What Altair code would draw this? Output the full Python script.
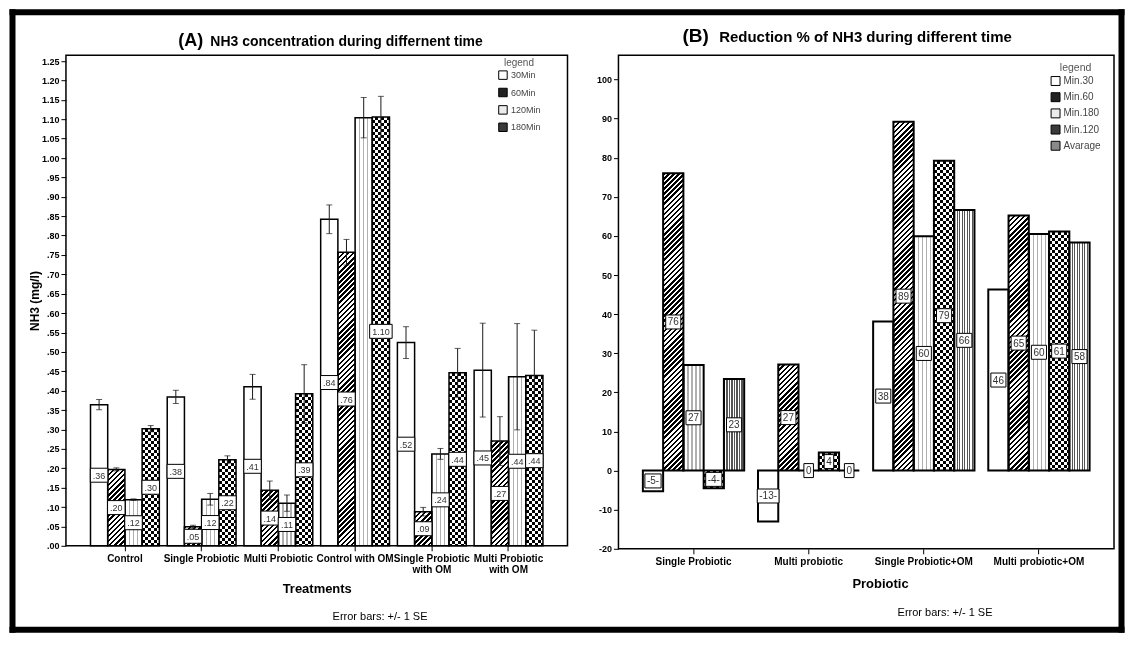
import math
import altair as alt

FONT = "Liberation Sans"

# ---------------- Panel A data ----------------
A_CATS = ["Control", "Single Probiotic", "Multi Probiotic", "Control with OM",
          "Single Probiotic\nwith OM", "Multi Probiotic\nwith OM"]
A_SERIES = ["30Min", "60Min", "120Min", "180Min"]
A_30 = [0.364, 0.384, 0.410, 0.842, 0.524, 0.453]
A_60 = [0.197, 0.049, 0.143, 0.757, 0.088, 0.270]
A_120 = [0.119, 0.120, 0.110, 1.104, 0.237, 0.436]
A_180 = [0.302, 0.222, 0.392, 1.106, 0.446, 0.439]
A_SE_30 = [0.013, 0.017, 0.032, 0.037, 0.041, 0.121]
A_SE_60 = [0.004, 0.004, 0.024, 0.033, 0.011, 0.063]
A_SE_120 = [0.002, 0.015, 0.021, 0.052, 0.014, 0.137]
A_SE_180 = [0.008, 0.010, 0.075, 0.053, 0.063, 0.117]
A_LBL_30 = [".36", ".38", ".41", ".84", ".52", ".45"]
A_LBL_60 = [".20", ".05", ".14", ".76", ".09", ".27"]
A_LBL_120 = [".12", ".12", ".11", "", ".24", ".44"]
A_LBL_180 = [".30", ".22", ".39", "1.10", ".44", ".44"]
A_TICKS = [0.0, 0.05, 0.10, 0.15, 0.20, 0.25, 0.30, 0.35, 0.40, 0.45, 0.50, 0.55, 0.60,
           0.65, 0.70, 0.75, 0.80, 0.85, 0.90, 0.95, 1.00, 1.05, 1.10, 1.15, 1.20, 1.25]

# ---------------- Panel B data ----------------
B_CATS = ["Single Probiotic", "Multi probiotic", "Single Probiotic+OM", "Multi probiotic+OM"]
B_SERIES = ["Min.30", "Min.60", "Min.180", "Min.120", "Avarage"]
B_30 = [-5.3, -13.0, 38.1, 46.3]
B_60 = [76.0, 27.1, 89.2, 65.2]
B_180 = [27.0, 0.0, 59.9, 60.5]
B_120 = [-4.5, 4.6, 79.2, 61.1]
B_AVG = [23.4, 0.0, 66.6, 58.3]
B_LBL_30 = ["-5-", "-13-", "38", "46"]
B_LBL_60 = ["76", "27", "89", "65"]
B_LBL_180 = ["27", "0", "60", "60"]
B_LBL_120 = ["-4-", "4", "79", "61"]
B_LBL_AVG = ["23", "0", "66", "58"]
B_TICKS = [-20, -10, 0, 10, 20, 30, 40, 50, 60, 70, 80, 90, 100]

# ---------------- layout ----------------
A_W, A_H = 502, 491
B_W, B_H = 496, 494
A_YDOM = [0, 1.265]
B_YDOM = [-20, 106.2]
A_PI, A_PO = 0.103, 0.32
B_PI, B_PO = 0.12, 0.212
A_BAR = A_W / (len(A_CATS) - A_PI + 2 * A_PO) * (1 - A_PI) / len(A_SERIES)
B_BAR = B_W / (len(B_CATS) - B_PI + 2 * B_PO) * (1 - B_PI) / len(B_SERIES)
A_PXPU = A_H / (A_YDOM[1] - A_YDOM[0])
B_PXPU = B_H / (B_YDOM[1] - B_YDOM[0])

CW = {"0": 556, "1": 556, "2": 556, "3": 556, "4": 556, "5": 556, "6": 556,
      "7": 556, "8": 556, "9": 556, ".": 278, "-": 333}


def text_w(s, fs):
    return sum(CW.get(c, 556) for c in s) * fs / 1000.0


def box_path(s, fs, pad, h=14.0):
    hw = (text_w(s, fs) + pad) / h
    return f"M{-hw:.3f},-1L{hw:.3f},-1L{hw:.3f},1L{-hw:.3f},1Z"


def stripe_stops(length, period, frac, on, off):
    stops = []
    k = 0
    while k * period < length:
        a = min(k * period / length, 1)
        b = min((k * period + frac * period) / length, 1)
        c = min((k + 1) * period / length, 1)
        stops += [{"offset": round(a, 5), "color": on}, {"offset": round(b, 5), "color": on},
                  {"offset": round(b, 5), "color": off}, {"offset": round(c, 5), "color": off}]
        k += 1
    return stops


def grad(x2, y2, stops):
    return {"gradient": "linear", "x1": 0, "y1": 0, "x2": round(x2, 6), "y2": round(y2, 6),
            "stops": stops}


CLEAR = "rgba(255,255,255,0)"


def fills(kind, w, h):
    if kind == "white" or h < 0.5:
        return "#ffffff", CLEAR
    if kind == "diag":
        lam = (w + h) / (w * w + h * h)
        return grad(lam * w, lam * h,
                    stripe_stops((w + h) / math.sqrt(2), 3.6, 0.5, "#000000", "#ffffff")), CLEAR
    if kind == "dots":
        return grad(1, 0, stripe_stops(w, 4.0, 0.3, "#b0b0b0", "#ffffff")), CLEAR
    if kind == "vlines":
        return grad(1, 0, stripe_stops(w, 2.5, 0.45, "#555555", "#ffffff")), CLEAR
    # checker: vertical stripes + horizontal stripes combined with a difference blend
    return (grad(1, 0, stripe_stops(w, 6.0, 0.5, "#000000", "#ffffff")),
            grad(0, 1, stripe_stops(h, 6.0, 0.5, "#ffffff", CLEAR)))


def build_rows(cats, series, values, labels, kinds, ses, barw, pxpu, fs, pad):
    rows = []
    for si, s in enumerate(series):
        for ci, c in enumerate(cats):
            v = values[si][ci]
            f1, f2 = fills(kinds[si], barw, abs(v) * pxpu)
            r = {"cat": c, "series": s, "v": v, "mid": v / 2.0, "lbl": labels[si][ci],
                 "f1": f1, "f2": f2, "shp": box_path(labels[si][ci], fs, pad)}
            if ses is not None:
                r["lo"] = v - ses[si][ci]
                r["hi"] = v + ses[si][ci]
            rows.append(r)
    return rows


rows_a = build_rows(A_CATS, A_SERIES, [A_30, A_60, A_120, A_180],
                    [A_LBL_30, A_LBL_60, A_LBL_120, A_LBL_180],
                    ["white", "diag", "dots", "checker"],
                    [A_SE_30, A_SE_60, A_SE_120, A_SE_180], A_BAR, A_PXPU, 9, 5)
rows_b = build_rows(B_CATS, B_SERIES, [B_30, B_60, B_180, B_120, B_AVG],
                    [B_LBL_30, B_LBL_60, B_LBL_180, B_LBL_120, B_LBL_AVG],
                    ["white", "diag", "dots", "checker", "vlines"],
                    None, B_BAR, B_PXPU, 10, 4)


def one():
    return alt.Data(values=[{"k": 0}])


def txt(text, x, y, size, weight="normal", align="left", color="black"):
    return alt.Chart(one()).mark_text(
        text=text, font=FONT, fontSize=size, fontWeight=weight, align=align,
        baseline="alphabetic", color=color).encode(x=alt.value(x), y=alt.value(y))


def frame_rect(x, x2, y, y2):
    return alt.Chart(one()).mark_rect(color="black").encode(
        x=alt.value(x), x2=alt.value(x2), y=alt.value(y), y2=alt.value(y2))


def panel(rows, cats, series, pi, po, xaxis, xtitle, ydom, yaxis, ytitle, checker,
          leg_colors, legend, label_fs, bar_sw, extra, errorbars):
    def X():
        return alt.X("cat:N", scale=alt.Scale(domain=cats, paddingInner=pi, paddingOuter=po),
                     axis=xaxis, title=xtitle)

    def XO():
        return alt.XOffset("series:N", scale=alt.Scale(domain=series, paddingInner=0,
                                                        paddingOuter=0))

    def Y(f):
        return alt.Y(f, scale=alt.Scale(domain=ydom, nice=False, zero=False), axis=yaxis,
                     title=ytitle, stack=None)

    layers = list(extra["before"])
    layers.append(alt.Chart().mark_bar(strokeWidth=0).encode(
        x=X(), xOffset=XO(), y=Y("v:Q"), fill=alt.Fill("f1:N", scale=None)))
    layers.append(alt.Chart().transform_filter(alt.datum.series == checker).mark_bar(
        strokeWidth=0, blend="difference").encode(
        x=X(), xOffset=XO(), y=Y("v:Q"), fill=alt.Fill("f2:N", scale=None)))
    layers.append(alt.Chart().mark_bar(fillOpacity=0, stroke="black", strokeWidth=bar_sw).encode(
        x=X(), xOffset=XO(), y=Y("v:Q")))
    layers.append(alt.Chart().mark_point(shape="square", filled=True, opacity=0, size=4).encode(
        x=X(), xOffset=XO(), y=Y("v:Q"),
        color=alt.Color("series:N", scale=alt.Scale(domain=series, range=leg_colors),
                        legend=legend)))
    if errorbars:
        layers.append(alt.Chart().mark_rule(color="#1a1a1a", strokeWidth=1).encode(
            x=X(), xOffset=XO(), y=Y("lo:Q"), y2="hi:Q"))
        for f in ["hi:Q", "lo:Q"]:
            layers.append(alt.Chart().mark_tick(orient="horizontal", size=6, thickness=1,
                                                color="#1a1a1a").encode(
                x=X(), xOffset=XO(), y=Y(f)))
    layers.append(alt.Chart().transform_filter(alt.datum.lbl != "").mark_point(
        filled=True, fill="white", stroke="black", strokeWidth=1, opacity=1, size=196).encode(
        x=X(), xOffset=XO(), y=Y("mid:Q"), shape=alt.Shape("shp:N", scale=None)))
    layers.append(alt.Chart().transform_filter(alt.datum.lbl != "").mark_text(
        font=FONT, fontSize=label_fs, color="#333333", align="center", baseline="middle",
        dy=0.5).encode(x=X(), xOffset=XO(), y=Y("mid:Q"), text="lbl:N"))
    layers += extra["after"]
    return alt.layer(*layers, data=alt.Data(values=rows))


# ---------------- Panel A ----------------
xaxis_a = alt.Axis(labelAngle=0, labelExpr="split(datum.label, '\\n')", labelLineHeight=10.5,
                   labelFontSize=10, labelPadding=3, tickSize=5, titleFontSize=13, titleY=47,
                   titleBaseline="alphabetic", labelLimit=300)
yaxis_a = alt.Axis(values=A_TICKS,
                   labelExpr="datum.value < 1 ? slice(format(datum.value, '.2f'), 1) : format(datum.value, '.2f')",
                   labelFontSize=9, labelPadding=2, tickSize=5, titleFontSize=12, titleX=-31.7,
                   titleBaseline="middle", labelOverlap=False)
legend_a = alt.Legend(title="legend", orient="none", legendX=432.4, legendY=2.9,
                      symbolType="square", symbolSize=72, symbolStrokeColor="black",
                      symbolStrokeWidth=1, symbolOpacity=1, labelFont=FONT, labelFontSize=9,
                      labelColor="#444444", titleFont=FONT, titleFontSize=10,
                      titleFontWeight="normal", titleColor="#555555", titleAnchor="middle",
                      titlePadding=2, rowPadding=3.4, labelOffset=3, padding=0)
extra_a = {
    "before": [frame_rect(-56.5, 1059.5, -46, -40), frame_rect(-56.5, 1059.5, 572, 578),
               frame_rect(-56.5, -50.5, -46, 578), frame_rect(1053.5, 1059.5, -46, 578)],
    "after": [txt("(A)", 112.5, -9.5, 18, "bold"),
              txt("NH3 concentration during differnent time", 144.5, -9.5, 14, "bold"),
              txt("Error bars: +/- 1 SE", 314.4, 565.2, 11, "normal", "center")],
}
panel_a = panel(rows_a, A_CATS, A_SERIES, A_PI, A_PO, xaxis_a, "Treatments", A_YDOM, yaxis_a,
                "NH3 (mg/l)", "180Min", ["#ffffff", "#222222", "#ececec", "#3a3a3a"], legend_a,
                9, 1.5, extra_a, True).properties(width=A_W, height=A_H)

# ---------------- Panel B ----------------
xaxis_b = alt.Axis(labelAngle=0, labelFontSize=10, labelPadding=3, tickSize=5, titleFontSize=13,
                   titleY=39, titleX=261.8, titleBaseline="alphabetic", labelLimit=300)
yaxis_b = alt.Axis(values=B_TICKS, labelExpr="'' + datum.value", labelFontSize=9,
                   labelPadding=2, tickSize=5, labelOverlap=False)
legend_b = alt.Legend(title="legend", orient="none", legendX=432.5, legendY=7.3,
                      symbolType="square", symbolSize=80, symbolStrokeColor="black",
                      symbolStrokeWidth=1, symbolOpacity=1, labelFont=FONT, labelFontSize=10,
                      labelColor="#444444", titleFont=FONT, titleFontSize=10.5,
                      titleFontWeight="normal", titleColor="#555555", titleAnchor="middle",
                      titlePadding=3, rowPadding=2.2, labelOffset=3, padding=0)
extra_b = {
    "before": [],
    "after": [txt("(B)", 64.1, -13.2, 19, "bold"),
              txt("Reduction % of NH3 during different time", 100.8, -13.2, 15, "bold"),
              txt("Error bars: +/- 1 SE", 326.9, 560.8, 11, "normal", "center")],
}
panel_b = panel(rows_b, B_CATS, B_SERIES, B_PI, B_PO, xaxis_b, "Probiotic", B_YDOM, yaxis_b,
                "", "Min.120", ["#ffffff", "#222222", "#ececec", "#3a3a3a", "#8a8a8a"], legend_b,
                10, 2, extra_b, False).properties(width=B_W, height=B_H)

chart = alt.hconcat(panel_a, panel_b, spacing=51, bounds="flush").resolve_scale(
    color="independent", x="independent", y="independent", xOffset="independent"
).properties(padding=0, background="white").configure_view(
    stroke="black", strokeWidth=1.5
).configure_axis(
    labelFont=FONT, titleFont=FONT, labelFontWeight="bold", titleFontWeight="bold",
    labelColor="black", titleColor="black", tickColor="black", domain=False, grid=False
).configure_legend(labelFont=FONT, titleFont=FONT)

chart.save("out.html", embed_options={"renderer": "svg", "actions": False})
